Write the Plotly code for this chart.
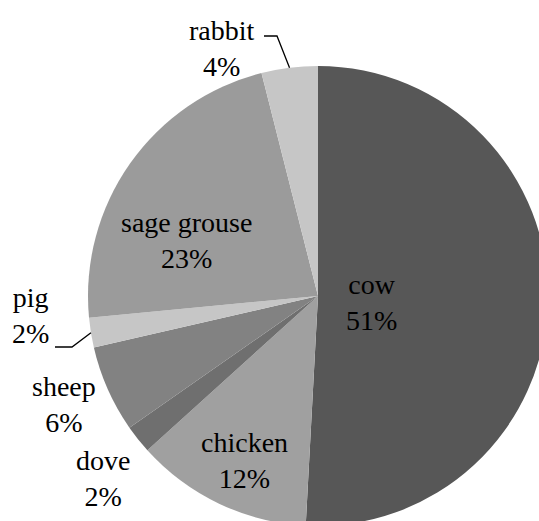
import math
import plotly.graph_objects as go

# ---- data ----
categories = ["cow", "chicken", "dove", "sheep", "pig", "sage grouse", "rabbit"]
values = [50.85, 12.45, 2.0, 6.1, 2.1, 22.55, 3.95]

# ---- style ----
colors = ["#575757", "#a0a0a0", "#6f6f6f", "#828282", "#c6c6c6", "#9b9b9b", "#c6c6c6"]
W, H = 560, 540           # figure larger than window; overflow clipped
CX, CY, R = 318, 296, 230  # pie centre / radius in page pixels
FONT = dict(family="Times New Roman, DejaVu Serif, serif", size=28, color="black")
label_pos = {  # label block centres (page pixels)
    "cow": (371, 302), "chicken": (244, 460), "dove": (103, 478),
    "sheep": (64, 404), "pig": (30, 315), "sage grouse": (186, 240),
    "rabbit": (222, 48),
}
leaders = {  # elbow and end points of leader lines (page pixels)
    "rabbit": [(277, 36), (264, 36)],
    "pig": [(72, 347), (55, 347)],
}


def px(x):
    return x / W


def py(y):
    return 1 - y / H


total = sum(values)
pcts = [int(v / total * 100 + 0.5) for v in values]

fig = go.Figure(go.Pie(
    labels=categories, values=values, sort=False, direction="clockwise",
    rotation=0, textinfo="none", hoverinfo="label+percent",
    marker=dict(colors=colors, line=dict(width=0)),
    domain=dict(x=[px(CX - R), px(CX + R)], y=[py(CY + R), py(CY - R)]),
    showlegend=False,
))

annotations = []
for cat, p in zip(categories, pcts):
    x, y = label_pos[cat]
    annotations.append(dict(
        x=px(x), y=py(y), xref="paper", yref="paper", text=f"{cat}<br>{p}%",
        showarrow=False, xanchor="center", yanchor="middle", font=FONT,
    ))

shapes = []
cum = 0
for cat, v in zip(categories, values):
    mid = (cum + v / 2) / total * 2 * math.pi
    cum += v
    if cat in leaders:
        ex, ey = CX + R * math.sin(mid), CY - R * math.cos(mid)
        pts = [(ex, ey)] + leaders[cat]
        path = "M " + " L ".join(f"{px(a):.5f},{py(b):.5f}" for a, b in pts)
        shapes.append(dict(type="path", path=path, xref="paper", yref="paper",
                           line=dict(color="black", width=1.3)))

fig.update_layout(
    width=W, height=H, margin=dict(l=0, r=0, t=0, b=0),
    paper_bgcolor="white", plot_bgcolor="white",
    font=FONT,
    annotations=annotations, shapes=shapes,
)

fig.write_html(
    "out.html",
    post_script="document.body.style.overflow='hidden';"
                "document.documentElement.style.overflow='hidden';",
)
